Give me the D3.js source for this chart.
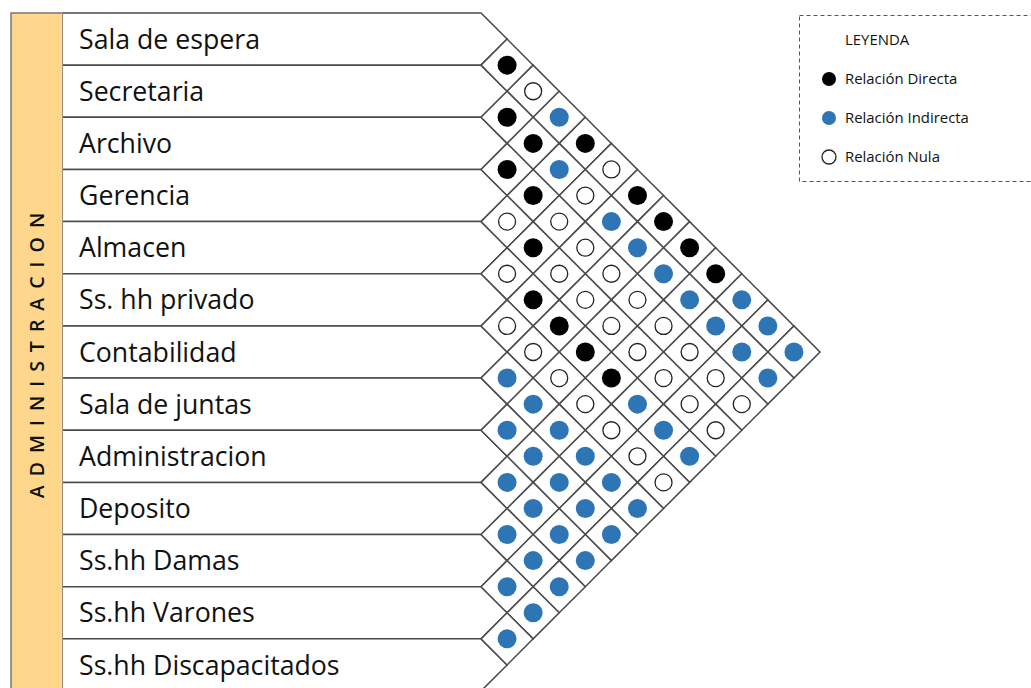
<!DOCTYPE html>
<html>
<head>
<meta charset="utf-8">
<script src="https://cdn.jsdelivr.net/npm/d3@7"></script>
<style>
  body { margin: 0; background: #fff; }
  svg { display: block; font-family: "Open Sans", "Lato", sans-serif; }
</style>
</head>
<body>
<div id="chart"></div>
<script>
// ambientes (rows, top to bottom)
var ambientes = ["Sala de espera", "Secretaria", "Archivo", "Gerencia", "Almacen",
  "Ss. hh privado", "Contabilidad", "Sala de juntas", "Administracion", "Deposito",
  "Ss.hh Damas", "Ss.hh Varones", "Ss.hh Discapacitados"];

// relaciones of each row with the rows below it: D = directa, I = indirecta, N = nula
var relaciones = [
  ["D","N","I","D","N","D","D","D","D","I","I","I"],
  ["D","D","I","N","I","I","I","I","I","I","I"],
  ["D","D","N","N","N","N","N","N","N","N"],
  ["N","D","N","N","N","N","N","N","N"],
  ["N","D","D","D","D","I","I","I"],
  ["N","N","N","N","N","N","N"],
  ["I","I","I","I","I","I"],
  ["I","I","I","I","I"],
  ["I","I","I","I"],
  ["I","I","I"],
  ["I","I"],
  ["I"]
];

var leyendaTipos = ["D", "I", "N"];
var leyendaTextos = ["Relación Directa", "Relación Indirecta", "Relación Nula"];
var zona = "ADMINISTRACION";

var width = 1031, height = 688;
var svg = d3.select("#chart").append("svg")
  .attr("width", width).attr("height", height);

// font size that makes a sample text reach a given width
function fitSize(sample, target, base) {
  var t = svg.append("text").attr("font-size", base).text(sample);
  var w = t.node().getComputedTextLength();
  t.remove();
  return base * target / w;
}
var labelSize = fitSize("Sala de espera", 181, 24);
var legendSize = fitSize("Relación Indirecta", 124, 13);

var n = ambientes.length;
var y = d3.scaleLinear().domain([0, n]).range([13, 691]);
var x = d3.scaleLinear().domain([0, n]).range([481, 820]);
var rowH = y(1) - y(0);

var fillOf = { D: "#000", I: "#2E75B6", N: "#fff" };
var strokeOf = { D: "none", I: "none", N: "#222" };
var lineColor = "#4a4a4a";

// orange zone column
svg.append("rect")
  .attr("x", 11).attr("y", y(0))
  .attr("width", 52).attr("height", height)
  .attr("fill", "#FFD78C")
  .attr("stroke", "#777").attr("stroke-width", 1.5);

svg.append("text")
  .attr("transform", "translate(37,351) rotate(-90)")
  .attr("text-anchor", "middle")
  .attr("dy", "0.36em")
  .attr("font-size", 19.5)
  .attr("font-weight", 600)
  .attr("letter-spacing", 9)
  .attr("fill", "#111")
  .text(zona);

// label boxes with pointed ends
var rows = svg.append("g");
rows.selectAll("path")
  .data(ambientes)
  .enter().append("path")
  .attr("d", function(d, i) {
    return "M63," + y(i) + "L" + x(0) + "," + y(i) +
      "L" + x(1) + "," + y(i + 0.5) + "L" + x(0) + "," + y(i + 1) +
      "L63," + y(i + 1);
  })
  .attr("fill", "#fff")
  .attr("stroke", lineColor)
  .attr("stroke-width", 1.5);

rows.selectAll("text")
  .data(ambientes)
  .enter().append("text")
  .attr("x", 79)
  .attr("y", function(d, i) { return y(i + 0.5); })
  .attr("dy", "0.36em")
  .attr("font-size", labelSize)
  .attr("fill", "#111")
  .text(function(d) { return d; });

// matrix cells
var celdas = [];
relaciones.forEach(function(fila, i) {
  fila.forEach(function(t, k) {
    celdas.push({ i: i, j: i + k + 1, tipo: t });
  });
});

var cell = svg.append("g").selectAll("g")
  .data(celdas)
  .enter().append("g")
  .attr("transform", function(d) {
    return "translate(" + x(d.j - d.i) + "," + y((d.i + d.j + 1) / 2) + ")";
  });

var hw = x(1) - x(0);
cell.append("path")
  .attr("d", "M" + (-hw) + ",0L0," + (-rowH / 2) + "L" + hw + ",0L0," + (rowH / 2) + "Z")
  .attr("fill", "#fff")
  .attr("stroke", lineColor)
  .attr("stroke-width", 1.5);

cell.append("circle")
  .attr("r", function(d) { return d.tipo === "N" ? 8.5 : 9.5; })
  .attr("fill", function(d) { return fillOf[d.tipo]; })
  .attr("stroke", function(d) { return strokeOf[d.tipo]; })
  .attr("stroke-width", 1.3);

// legend
var leg = svg.append("g");
leg.append("rect")
  .attr("x", 799.5).attr("y", 15.5)
  .attr("width", 260).attr("height", 166)
  .attr("fill", "none")
  .attr("stroke", "#555")
  .attr("stroke-dasharray", "4,3");

leg.append("text")
  .attr("x", 845).attr("y", 45)
  .attr("font-size", legendSize)
  .attr("fill", "#111")
  .text("LEYENDA");

var items = leg.selectAll("g.item")
  .data(leyendaTipos)
  .enter().append("g")
  .attr("class", "item")
  .attr("transform", function(d, i) { return "translate(0," + (79 + i * 39) + ")"; });

items.append("circle")
  .attr("cx", 829).attr("r", 7)
  .attr("fill", function(d) { return fillOf[d]; })
  .attr("stroke", function(d) { return strokeOf[d]; })
  .attr("stroke-width", 1.3);

items.append("text")
  .attr("x", 845)
  .attr("dy", "0.36em")
  .attr("font-size", legendSize)
  .attr("fill", "#111")
  .text(function(d, i) { return leyendaTextos[i]; });
</script>
</body>
</html>
